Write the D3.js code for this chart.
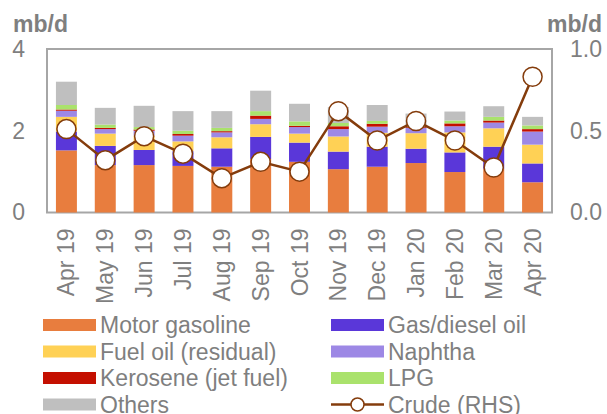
<!DOCTYPE html>
<html>
<head>
<meta charset="utf-8">
<script src="https://cdn.jsdelivr.net/npm/d3@7"></script>
<style>
  html, body { margin: 0; padding: 0; background: #fff; }
  svg { display: block; font-family: "Liberation Sans", Arial, sans-serif; }
</style>
</head>
<body>
<svg id="chart" width="607" height="414"></svg>
<script>
// Monthly product and crude volumes, mb/d
const months = ["Apr 19","May 19","Jun 19","Jul 19","Aug 19","Sep 19","Oct 19","Nov 19","Dec 19","Jan 20","Feb 20","Mar 20","Apr 20"];
const motorGasoline = [1.52,1.16,1.16,1.14,1.12,1.31,1.24,1.06,1.12,1.21,0.99,1.07,0.74];
const gasDiesel     = [0.46,0.47,0.37,0.36,0.45,0.54,0.47,0.43,0.49,0.35,0.48,0.54,0.46];
const fuelOil       = [0.36,0.30,0.35,0.24,0.27,0.31,0.22,0.37,0.34,0.38,0.49,0.45,0.46];
const naphtha       = [0.15,0.11,0.12,0.14,0.12,0.13,0.16,0.18,0.15,0.13,0.15,0.14,0.32];
const kerosene      = [0.03,0.03,0.03,0.04,0.03,0.08,0.03,0.07,0.07,0.02,0.07,0.05,0.06];
const lpg           = [0.11,0.08,0.06,0.08,0.08,0.11,0.11,0.08,0.07,0.04,0.07,0.09,0.09];
const others        = [0.57,0.41,0.52,0.48,0.41,0.50,0.43,0.39,0.39,0.29,0.22,0.26,0.21];
const crude         = [0.51,0.32,0.467,0.36,0.21,0.31,0.25,0.62,0.44,0.56,0.44,0.275,0.83];

const leftTicks = [0, 2, 4];
const rightTicks = [0, 0.5, 1.0];

const series = [
  { name: "Motor gasoline",      values: motorGasoline, color: "#e87d3e" },
  { name: "Gas/diesel oil",      values: gasDiesel,     color: "#5a37d9" },
  { name: "Fuel oil (residual)", values: fuelOil,       color: "#ffd155" },
  { name: "Naphtha",             values: naphtha,       color: "#9d88e5" },
  { name: "Kerosene (jet fuel)", values: kerosene,      color: "#c40f00" },
  { name: "LPG",                 values: lpg,           color: "#aae26c" },
  { name: "Others",              values: others,        color: "#bfbfbf" }
];

const textColor = "#7f7f7f";
const crudeColor = "#843c0c";
const fontSize = "23px";

const svg = d3.select("#chart");
const plot = { left: 47, right: 552, top: 49, bottom: 212.5 };

const x = d3.scaleBand().domain(months).range([plot.left, plot.right]).paddingInner(0.46).paddingOuter(0.23);
const yL = d3.scaleLinear().domain([0, 4]).range([plot.bottom, plot.top]);
const yR = d3.scaleLinear().domain([0, 1]).range([plot.bottom, plot.top]);

// Plot frame
svg.append("rect")
  .attr("x", plot.left).attr("y", plot.top)
  .attr("width", plot.right - plot.left).attr("height", plot.bottom - plot.top)
  .attr("fill", "none").attr("stroke", "#a6a6a6").attr("stroke-width", 2);

// Stacked bars
const rows = months.map((m, i) => {
  const r = { month: m };
  series.forEach(s => r[s.name] = s.values[i]);
  return r;
});
const stacked = d3.stack().keys(series.map(s => s.name))(rows);

svg.append("g").selectAll("g")
  .data(stacked)
  .join("g")
  .attr("fill", (d, i) => series[i].color)
  .selectAll("rect")
  .data(d => d)
  .join("rect")
  .attr("x", d => x(d.data.month))
  .attr("width", x.bandwidth())
  .attr("y", d => yL(d[1]))
  .attr("height", d => yL(d[0]) - yL(d[1]));

// Crude line on the right-hand axis
const cx = (d, i) => x(months[i]) + x.bandwidth() / 2;
svg.append("path")
  .datum(crude)
  .attr("fill", "none")
  .attr("stroke", crudeColor)
  .attr("stroke-width", 2.5)
  .attr("d", d3.line().x(cx).y(d => yR(d)));

svg.append("g").selectAll("circle")
  .data(crude)
  .join("circle")
  .attr("cx", cx)
  .attr("cy", d => yR(d))
  .attr("r", 9.5)
  .attr("fill", "#fff")
  .attr("stroke", crudeColor)
  .attr("stroke-width", 1.5);

// Axes
const leftAxis = d3.axisLeft(yL).tickValues(leftTicks).tickSize(0).tickPadding(22).tickFormat(d3.format("d"));
const gL = svg.append("g").attr("transform", `translate(${plot.left},0)`).call(leftAxis);
gL.select(".domain").remove();
gL.selectAll("text").attr("fill", textColor).style("font-size", fontSize);

const rightAxis = d3.axisRight(yR).tickValues(rightTicks).tickSize(0).tickPadding(18).tickFormat(d3.format(".1f"));
const gR = svg.append("g").attr("transform", `translate(${plot.right},0)`).call(rightAxis);
gR.select(".domain").remove();
gR.selectAll("text").attr("fill", textColor).style("font-size", fontSize);

const xAxis = d3.axisBottom(x).tickSize(0).tickPadding(0);
const gX = svg.append("g").attr("transform", `translate(0,${plot.bottom})`).call(xAxis);
gX.select(".domain").remove();
gX.selectAll("text")
  .attr("fill", textColor)
  .style("font-size", fontSize)
  .attr("transform", "rotate(-90)")
  .attr("text-anchor", "end")
  .attr("x", -16)
  .attr("y", 0)
  .attr("dy", "0.35em");

// Unit labels
svg.append("text").attr("x", 13).attr("y", 32).text("mb/d")
  .attr("fill", textColor).style("font-size", fontSize).style("font-weight", "bold");
svg.append("text").attr("x", 602).attr("y", 32).attr("text-anchor", "end").text("mb/d")
  .attr("fill", textColor).style("font-size", fontSize).style("font-weight", "bold");

// Legend
const legendItems = [
  { name: "Motor gasoline", color: series[0].color, col: 0, row: 0 },
  { name: "Gas/diesel oil", color: series[1].color, col: 1, row: 0 },
  { name: "Fuel oil (residual)", color: series[2].color, col: 0, row: 1 },
  { name: "Naphtha", color: series[3].color, col: 1, row: 1 },
  { name: "Kerosene (jet fuel)", color: series[4].color, col: 0, row: 2 },
  { name: "LPG", color: series[5].color, col: 1, row: 2 },
  { name: "Others", color: series[6].color, col: 0, row: 3 },
  { name: "Crude (RHS)", color: crudeColor, col: 1, row: 3, line: true }
];
const colX = [43, 331];
const rowY = [325, 351.5, 378, 404.5];
const lg = svg.append("g");
legendItems.forEach(it => {
  const g = lg.append("g").attr("transform", `translate(${colX[it.col]},${rowY[it.row]})`);
  if (it.line) {
    g.append("line").attr("x1", 0).attr("x2", 53).attr("y1", 0).attr("y2", 0)
      .attr("stroke", it.color).attr("stroke-width", 2.5);
    g.append("circle").attr("cx", 26.5).attr("cy", 0).attr("r", 6.5)
      .attr("fill", "#fff").attr("stroke", it.color).attr("stroke-width", 1.5);
  } else {
    g.append("rect").attr("x", 0).attr("y", -6).attr("width", 53).attr("height", 12).attr("fill", it.color);
  }
  g.append("text").attr("x", 57).attr("y", 0).attr("dy", "0.35em")
    .text(it.name).attr("fill", textColor).style("font-size", fontSize);
});
</script>
</body>
</html>
